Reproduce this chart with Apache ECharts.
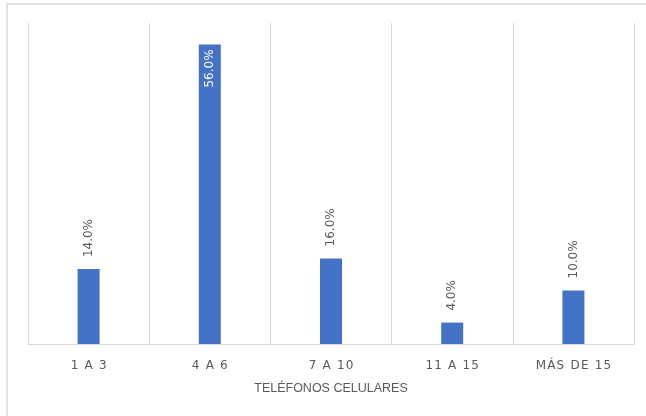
<!DOCTYPE html>
<html>
<head>
<meta charset="utf-8">
<style>
  html, body { margin: 0; padding: 0; background: #ffffff; }
  #chart { width: 646px; height: 416px; }
</style>
<script src="https://cdn.jsdelivr.net/npm/echarts@6/dist/echarts.min.js"></script>
</head>
<body>
<div id="chart"></div>
<script>
// Number of mobile phones per respondent (share of answers, %)
const categories = ['1 A 3', '4 A 6', '7 A 10', '11 A 15', 'MÁS DE 15'];
const shares = [14.0, 56.0, 16.0, 4.0, 10.0];
const axisTitle = 'TELÉFONOS CELULARES';

const chart = echarts.init(document.getElementById('chart'));

const textGrey = '#595959';
const lineGrey = '#d9d9d9';

// Category labels are drawn with a little tracking between characters
function tracked(s) {
  return s.split('').join('\u200A');
}

// The tallest bar carries its label inside, the others above
const barData = shares.map(function (v) {
  const inside = v === Math.max.apply(null, shares);
  return {
    value: v,
    label: inside
      ? { position: 'insideTop', align: 'right', verticalAlign: 'middle', color: '#ffffff', distance: 5 }
      : { position: 'top', align: 'left', verticalAlign: 'middle', color: textGrey, distance: 12 }
  };
});

chart.setOption({
  animation: false,
  backgroundColor: '#ffffff',
  graphic: [{
    type: 'rect',
    shape: { x: 7, y: 4, width: 700, height: 500 },
    style: { fill: 'none', stroke: lineGrey, lineWidth: 1.5 },
    silent: true
  }],
  grid: { left: 28, right: 12, top: 23, bottom: 72 },
  xAxis: {
    type: 'category',
    data: categories,
    axisLine: { show: true, lineStyle: { color: lineGrey, width: 1 } },
    axisTick: { show: false },
    splitLine: { show: true, lineStyle: { color: lineGrey, width: 1 } },
    axisLabel: {
      color: textGrey,
      fontFamily: 'DejaVu Sans',
      fontSize: 12,
      margin: 16,
      formatter: tracked
    },
    name: axisTitle,
    nameLocation: 'middle',
    nameGap: 38,
    nameTextStyle: {
      color: textGrey,
      fontFamily: 'Liberation Sans Narrow, Liberation Sans',
      fontSize: 12.5
    }
  },
  yAxis: {
    type: 'value',
    min: 0,
    max: 60,
    show: false,
    splitLine: { show: false }
  },
  series: [{
    type: 'bar',
    data: barData,
    barWidth: 22,
    itemStyle: { color: '#4472c4' },
    label: {
      show: true,
      rotate: 90,
      fontFamily: 'DejaVu Sans',
      fontSize: 12,
      formatter: function (p) { return p.value.toFixed(1) + '%'; }
    }
  }]
});
</script>
</body>
</html>
